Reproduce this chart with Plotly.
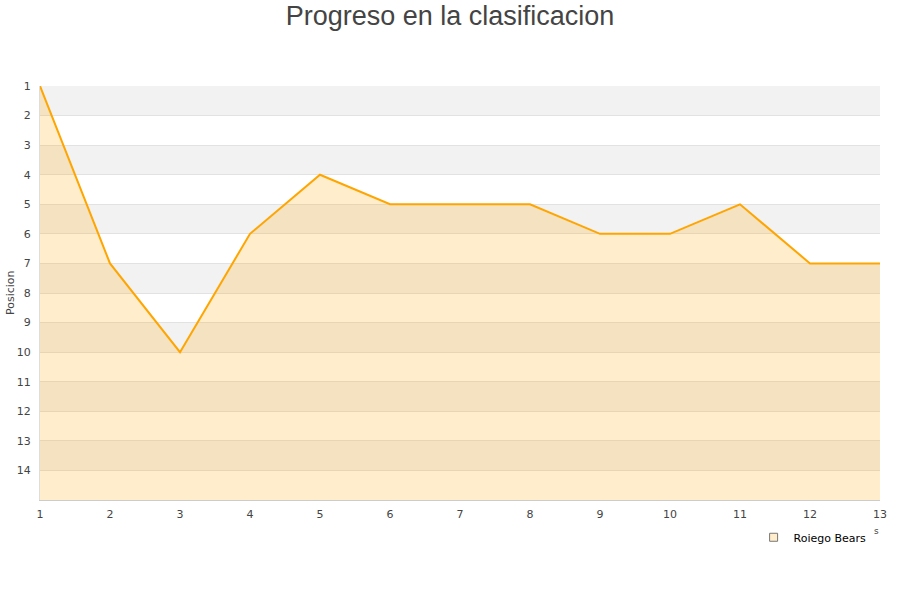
import plotly.graph_objects as go

jornadas = list(range(1, 14))
posiciones = [1, 7, 10, 6, 4, 5, 5, 5, 6, 6, 5, 7, 7]
equipo = "Roiego Bears"
y_ticks = list(range(1, 15))

fig = go.Figure()

# alternating bands
for k in range(1, 15, 2):
    fig.add_shape(type="rect", xref="paper", yref="y", x0=0, x1=1, y0=k, y1=k + 1,
                  fillcolor="#F2F2F2", line_width=0, layer="below")

fig.add_trace(go.Scatter(x=jornadas, y=[15] * len(jornadas), mode="lines",
                         line=dict(width=0), showlegend=False, hoverinfo="skip"))
fig.add_trace(go.Scatter(x=jornadas, y=posiciones, mode="lines", fill="tonexty",
                         fillcolor="rgba(255,165,0,0.2)",
                         line=dict(color="#FFA500", width=2), showlegend=False))
fig.add_trace(go.Scatter(x=[None], y=[None], mode="markers", name=equipo,
                         marker=dict(symbol="square", size=8, color="#FFEDCC",
                                     line=dict(color="#777", width=1))))

fig.update_layout(
    width=900, height=600,
    margin=dict(l=40, r=20, t=86, b=100, autoexpand=False),
    paper_bgcolor="white", plot_bgcolor="white",
    font=dict(family="DejaVu Sans", size=11, color="#444"),
    title=dict(text="Progreso en la clasificacion", x=0.5, xanchor="center",
               y=0.99, yanchor="top", automargin=False,
               font=dict(family="Liberation Sans", size=27, color="#444")),
    xaxis=dict(range=[1, 13], tickvals=jornadas, showgrid=False, zeroline=False,
               showline=True, linecolor="#ccc", ticks="outside", ticklen=4,
               tickcolor="rgba(0,0,0,0)", tickfont=dict(size=11), automargin=False),
    yaxis=dict(range=[15, 1], tickvals=y_ticks, showgrid=True, gridcolor="#e2e2e2",
               zeroline=False, showline=True, linecolor="#ddd", ticks="outside",
               ticklen=6, tickcolor="rgba(0,0,0,0)", automargin=False),
    legend=dict(x=0.99, y=-0.055, xanchor="right", yanchor="top",
                font=dict(size=11, color="#000"), bgcolor="rgba(0,0,0,0)"),
    showlegend=True,
)
fig.add_annotation(text="Posicion", xref="paper", yref="paper",
                   x=(10 - 40) / 840, y=(500 - 293) / 414, textangle=-90,
                   xanchor="center", yanchor="middle",
                   showarrow=False, font=dict(size=11, color="#444"))
fig.add_annotation(text="s", xref="paper", yref="paper", x=(876 - 40) / 840,
                   y=(500 - 531) / 414, xanchor="center", yanchor="middle",
                   showarrow=False, font=dict(size=9, color="#444"))

fig.write_html("out.html", config={"displayModeBar": False},
               post_script="document.body.style.margin='0';")
